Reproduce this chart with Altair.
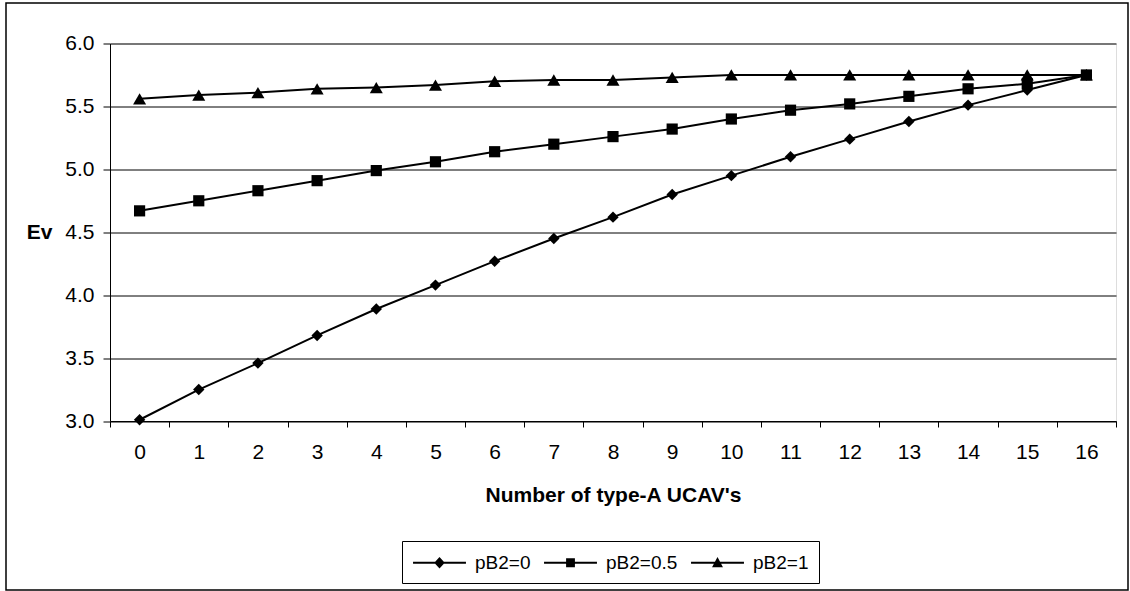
import altair as alt
import pandas as pd

x_vals = list(range(17))
series_names = ["pB2=0", "pB2=0.5", "pB2=1"]
pB2_0 = [3.01, 3.25, 3.46, 3.68, 3.89, 4.08, 4.27, 4.45, 4.62, 4.80, 4.95, 5.10, 5.24, 5.38, 5.51, 5.63, 5.75]
pB2_05 = [4.67, 4.75, 4.83, 4.91, 4.99, 5.06, 5.14, 5.20, 5.26, 5.32, 5.40, 5.47, 5.52, 5.58, 5.64, 5.68, 5.75]
pB2_1 = [5.56, 5.59, 5.61, 5.64, 5.65, 5.67, 5.70, 5.71, 5.71, 5.73, 5.75, 5.75, 5.75, 5.75, 5.75, 5.75, 5.75]
y_ticks = [3.0, 3.5, 4.0, 4.5, 5.0, 5.5, 6.0]

rows = []
for name, vals in zip(series_names, [pB2_0, pB2_05, pB2_1]):
    for xv, yv in zip(x_vals, vals):
        rows.append({"n": xv, "ev": yv, "series": name})
df = pd.DataFrame(rows)

FONT = "Liberation Sans"
FS = 21

x_enc = alt.X(
    "n:O",
    scale=alt.Scale(type="band", paddingInner=0, paddingOuter=0),
    axis=alt.Axis(
        title="Number of type-A UCAV's", tickBand="extent", labelAngle=0,
        labelFontSize=FS, labelFont=FONT, labelColor="black", labelPadding=14,
        tickColor="black", tickSize=6, domainColor="black", domainWidth=1,
        titleFont=FONT, titleFontSize=FS, titleFontWeight="bold", titleColor="black",
        titleY=74, titleBaseline="middle", grid=False,
    ),
)
y_enc = alt.Y(
    "ev:Q",
    scale=alt.Scale(domain=[3, 6], nice=False, zero=False),
    axis=alt.Axis(
        title="Ev", values=y_ticks, format=".1f",
        labelFontSize=FS, labelFont=FONT, labelColor="black", labelPadding=9,
        tickColor="black", tickSize=7, domainColor="black", domainWidth=1,
        grid=True, gridColor="black", gridWidth=1,
        titleFont=FONT, titleFontSize=FS, titleFontWeight="bold", titleColor="black",
        titleAngle=0, titleAlign="right", titleBaseline="middle",
        titleX=-58, titleY=189,
    ),
)

lines = alt.Chart(df).mark_line(color="black", strokeWidth=2).encode(
    x=x_enc, y=y_enc, detail="series:N"
)

marker_shapes = ["diamond", "square", "triangle-up"]
marker_sizes = [130, 125, 170]
point_layers = []
for name, shp, sz in zip(series_names, marker_shapes, marker_sizes):
    point_layers.append(
        alt.Chart(df).transform_filter(alt.datum.series == name)
        .mark_point(filled=True, color="black", opacity=1, shape=shp, size=sz)
        .encode(x=x_enc, y=y_enc)
    )

LINE = "M-2.52,-0.09H2.52V0.09H-2.52Z"
legend_paths = [
    LINE + "M0,-0.55L0.5,0L0,0.55L-0.5,0Z",
    LINE + "M-0.42,-0.42H0.42V0.42H-0.42Z",
    LINE + "M0,-0.55L0.52,0.42H-0.52Z",
]

legend_layer = alt.Chart(df).mark_point(filled=True, color="black", opacity=0).encode(
    x=x_enc,
    y=y_enc,
    shape=alt.Shape(
        "series:N",
        scale=alt.Scale(domain=series_names, range=legend_paths),
        legend=alt.Legend(
            title=None, orient="none", legendX=292, legendY=497.5, direction="horizontal",
            labelFont=FONT, labelFontSize=19, labelColor="black",
            symbolSize=441, symbolOffset=16, labelOffset=24, columnPadding=10,
            padding=10, strokeColor="black", fillColor="white",
            symbolOpacity=1, symbolFillColor="black",
        ),
    ),
)

frame = alt.Chart(pd.DataFrame({"a": [0]})).mark_rect(
    fillOpacity=0, stroke="black", strokeWidth=1.5
).encode(
    x=alt.value(-104), x2=alt.value(1018), y=alt.value(-40.5), y2=alt.value(546.5)
)

chart = alt.layer(lines, *point_layers, legend_layer, frame).properties(
    width=1006, height=377.5,
    autosize=alt.AutoSizeParams(type="none"),
    padding={"left": 110, "top": 43.5, "right": 14, "bottom": 170},
).configure_view(
    fill="#C0C0C0", stroke="#808080", strokeWidth=2
).configure(background="white")

chart.save("out.html", embed_options={"renderer": "svg", "actions": False})
